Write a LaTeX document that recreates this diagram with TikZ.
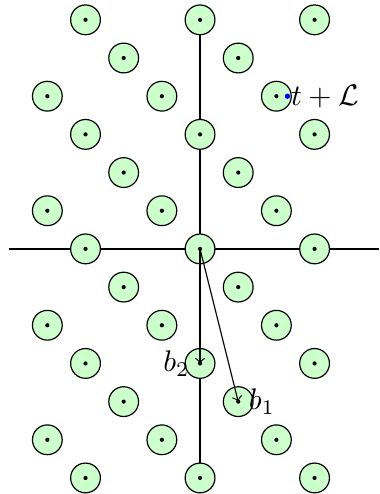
\documentclass[tikz,border=0pt]{standalone}
\usepackage{amsmath}

\begin{document}
\begin{tikzpicture}[scale=0.45,
    cell/.style={draw, fill=green!20},
    dot/.style={fill=black}]
    \useasboundingbox (-5.24,-6.42) rectangle (4.69,6.52);

    % Axes
    \coordinate (xl) at (-5,0);
    \coordinate (xr) at (4.69,0);
    \coordinate (yb) at (0,-6);
    \coordinate (yt) at (0,6);
    \draw (xl) -- (xr);
    \draw (yb) -- (yt);

    % Lattice points
    \foreach \x in {-4,...,3} {
        \foreach \y in {-6,...,6} {
            \pgfmathtruncatemacro{\r}{mod(\x+\y+30,3)}
            \ifnum\r=0
                \filldraw[cell] (\x,\y) circle (0.39);
                \fill[dot] (\x,\y) circle (0.055);
            \fi
        }
    }

    % Basis vectors
    \coordinate (o) at (0,0);
    \coordinate (b1) at (1,-4);
    \coordinate (b2) at (0,-3);
    \draw[->] (o) -- (b1);
    \draw[->] (o) -- (b2);
    \node[right] (lb1) at (b1) {$b_1$};
    \node[left] (lb2) at (b2) {$b_2$};

    % Shifted point
    \coordinate (t) at (2.29,4);
    \fill[blue] (t) circle (0.07);
    \node[right, inner sep=1pt] (lt) at (t) {$t+\mathcal{L}$};
\end{tikzpicture}
\end{document}
